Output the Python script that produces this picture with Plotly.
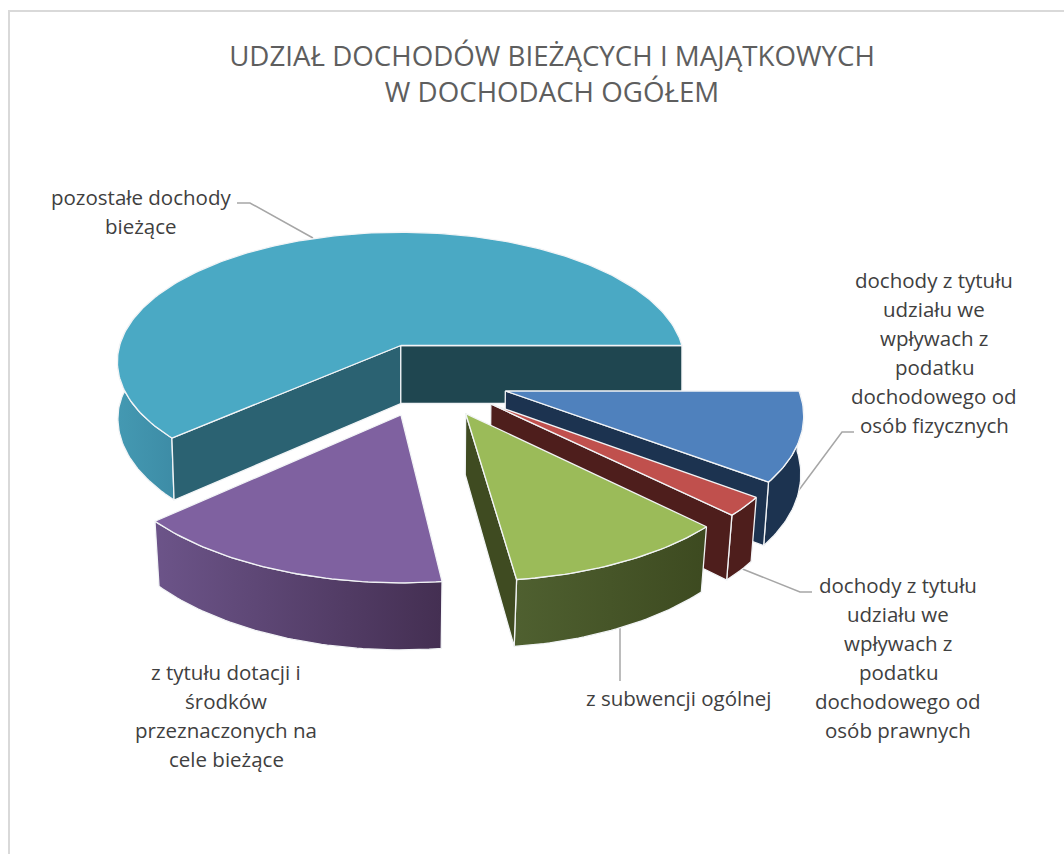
import numpy as np
import plotly.graph_objects as go

# ---- data (in % of total; clockwise from the 3 o'clock position)
categories = [
    "dochody z tytułu udziału we wpływach z podatku dochodowego od osób fizycznych",
    "dochody z tytułu udziału we wpływach z podatku dochodowego od osób prawnych",
    "z subwencji ogólnej",
    "z tytułu dotacji i środków przeznaczonych na cele bieżące",
    "pozostałe dochody bieżące",
]
values = [10.3, 2.2, 10.6, 15.3, 61.6]
explosion = 0.273

title_lines = ["UDZIAŁ DOCHODÓW BIEŻĄCYCH I MAJĄTKOWYCH", "W DOCHODACH OGÓŁEM"]
label_lines = [
    ["dochody z tytułu", "udziału we", "wpływach z", "podatku", "dochodowego od", "osób fizycznych"],
    ["dochody z tytułu", "udziału we", "wpływach z", "podatku", "dochodowego od", "osób prawnych"],
    ["z subwencji ogólnej"],
    ["z tytułu dotacji i", "środków", "przeznaczonych na", "cele bieżące"],
    ["pozostałe dochody", "bieżące"],
]

# ---- styling
top_colors = ["#4F81BD", "#C0504D", "#9BBB59", "#7F61A0", "#4AA9C4"]
end_colors = ["#1C3350", "#4E1E1C", "#3F4B21", "#452F52", "#1F4650"]
start_colors = ["#1C3350", "#4E1E1C", "#3F4B21", "#452F52", "#2B6272"]
outer_colors = [
    ("#1C3350", "#1C3350"),
    ("#4E1E1C", "#4E1E1C"),
    ("#4F6030", "#3D4A20"),
    ("#6C5489", "#442F52"),
    ("#4499B2", "#3D8CA6"),
]
label_xy = [(934, 280), (898, 585), (679, 698), (226, 672), (141, 197)]
leaders = [
    ([854, 842, 793], [432, 432, 498]),
    ([812, 800, 740], [592, 592, 568]),
    ([620, 620], [627, 681]),
    ([], []),
    ([237, 250, 313], [203, 203, 238]),
]
EDGE = "#F2F4F6"

# ---- camera: ground plane -> page
CX, CY = 402.0, 345.0      # page position of the ground origin
A, B, K = 281.0, 127.3, 0.125
CENTER = (0.093, 0.259)


def project(u, v, bottom=False):
    u, v = np.asarray(u, float), np.asarray(v, float)
    w = 1 - K * v
    x = CX + A * u / w
    y = CY + B * v / w
    if bottom:
        x = CX + (x - CX) * (1 - 0.014 * np.abs(v))
        y = y + 58 + 6 * v
    return x, y


def scatter_poly(x, y, fill, grad=None, line_w=1.3):
    kw = dict(fillcolor=fill) if grad is None else dict(
        fillgradient=dict(type="horizontal", colorscale=[[0, grad[0]], [1, grad[1]]]))
    return go.Scatter(x=list(x), y=list(y), mode="lines", fill="toself",
                      line=dict(color=EDGE, width=line_w), hoverinfo="skip",
                      showlegend=False, **kw)


fig = go.Figure()

# frame
fig.add_trace(go.Scatter(x=[9, 9, 1064], y=[854, 11, 11], mode="lines",
                         line=dict(color="#D9D9D9", width=2),
                         hoverinfo="skip", showlegend=False))
# leader lines
for lx, ly in leaders:
    if lx:
        fig.add_trace(go.Scatter(x=lx, y=ly, mode="lines", line=dict(color="#A6A6A6", width=1.5),
                                 hoverinfo="skip", showlegend=False))

edges = np.cumsum([0.0] + values) / sum(values) * 2 * np.pi
order = [4, 0, 1, 2, 3]
for i in order:
    a0, a1 = edges[i], edges[i + 1]
    mid = (a0 + a1) / 2
    au = CENTER[0] + explosion * np.cos(mid)
    av = CENTER[1] + explosion * np.sin(mid)
    n = max(int((a1 - a0) / np.radians(1)), 4)
    t = np.linspace(a0, a1, n)
    ru, rv = au + np.cos(t), av + np.sin(t)

    # outer wall: only the part that faces the viewer
    tf = t[t <= np.radians(195)] if i == 4 else t
    fu, fv = au + np.cos(tf), av + np.sin(tf)
    xt, yt = project(fu, fv)
    xb, yb = project(fu, fv, bottom=True)
    fig.add_trace(scatter_poly(np.r_[xt, xb[::-1], xt[0]], np.r_[yt, yb[::-1], yt[0]],
                               outer_colors[i][0], grad=outer_colors[i]))

    # flat cut faces, kept only when they turn towards the viewer
    for a, col, sgn in ((a0, start_colors[i], 1), (a1, end_colors[i], -1)):
        eu, ev = au + np.cos(a), av + np.sin(a)
        px, py = project([au, eu], [av, ev])
        qx, qy = project([au, eu], [av, ev], bottom=True)
        poly_x = [px[0], px[1], qx[1], qx[0], px[0]]
        poly_y = [py[0], py[1], qy[1], qy[0], py[0]]
        area = sum(poly_x[j] * poly_y[j + 1] - poly_x[j + 1] * poly_y[j] for j in range(4))
        if area * sgn < 0:
            fig.add_trace(scatter_poly(poly_x, poly_y, col))

    # top face
    x, y = project(np.r_[au, ru, au], np.r_[av, rv, av])
    fig.add_trace(scatter_poly(x, y, top_colors[i]))

# labels as separate lines so the leading matches
annotations = []
for (cx, ytop), lines in zip(label_xy, label_lines):
    for j, txt in enumerate(lines):
        annotations.append(dict(x=cx, y=ytop + 29 * j, text=txt, showarrow=False, xref="x", yref="y",
                                xanchor="center", yanchor="middle",
                                font=dict(family="Open Sans", size=20.5, color="#404040")))

fig.update_layout(
    width=1064, height=854, margin=dict(l=0, r=0, t=0, b=0),
    paper_bgcolor="white", plot_bgcolor="white", showlegend=False,
    title=dict(text="<br>".join(title_lines), x=552 / 1064, xanchor="center", y=0.9227, yanchor="middle",
               font=dict(family="Open Sans", size=27.7, color="#5E5E5E")),
    xaxis=dict(range=[0, 1064], visible=False, fixedrange=True),
    yaxis=dict(range=[854, 0], visible=False, fixedrange=True),
    annotations=annotations,
)
fig.write_html("out.html", config={"displayModeBar": False},
               post_script="document.body.style.margin='0';document.body.style.overflow='hidden';")
